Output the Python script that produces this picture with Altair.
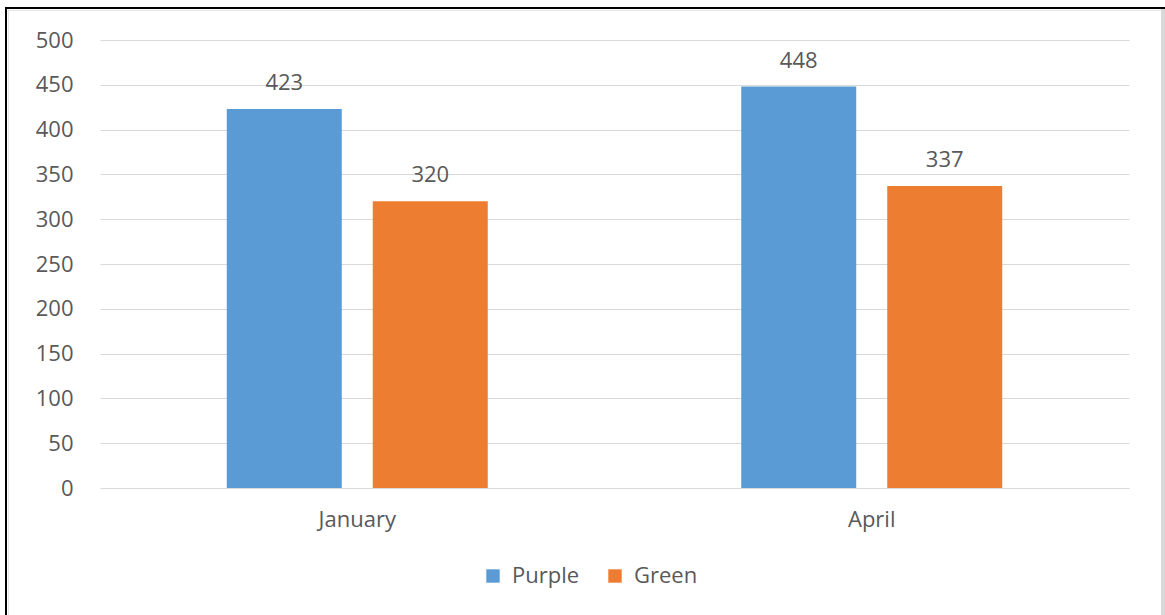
import altair as alt
import pandas as pd

# Values per month and series
months = ["January", "April"]
series = ["Purple", "Green"]
purple_values = [423, 448]
green_values = [320, 337]
colors = ["#5B9BD5", "#ED7D31"]
y_ticks = [0, 50, 100, 150, 200, 250, 300, 350, 400, 450, 500]

rows = []
for i, m in enumerate(months):
    rows.append({"Month": m, "Series": "Purple", "Value": purple_values[i]})
    rows.append({"Month": m, "Series": "Green", "Value": green_values[i]})
df = pd.DataFrame(rows)

FONT = "Open Sans"
FSIZE = 22
TEXT = "#595959"
GRID = "#d9d9d9"

x_enc = alt.X(
    "Month:N",
    sort=months,
    scale=alt.Scale(paddingInner=0.4927, paddingOuter=0.2464),
    axis=alt.Axis(title=None, labelAngle=0, domain=False, ticks=False,
                  labelPadding=21, labelFontSize=FSIZE, labelColor=TEXT,
                  labelFont=FONT),
)
xoff_enc = alt.XOffset(
    "Series:N", sort=series,
    scale=alt.Scale(paddingInner=0.2123, paddingOuter=0),
)
y_enc = alt.Y(
    "Value:Q",
    scale=alt.Scale(domain=[0, 500], nice=False),
    axis=alt.Axis(title=None, values=y_ticks, domain=False, ticks=False,
                  gridColor=GRID, gridWidth=1, labelPadding=27,
                  labelFontSize=FSIZE, labelColor=TEXT, labelFont=FONT),
)

bars = alt.Chart(df).mark_bar().encode(
    x=x_enc,
    xOffset=xoff_enc,
    y=y_enc,
    color=alt.Color(
        "Series:N",
        scale=alt.Scale(domain=series, range=colors),
        legend=alt.Legend(
            title=None, orient="none", direction="horizontal",
            legendX=382, legendY=525, symbolType="square",
            symbolSize=180, symbolStrokeWidth=0, symbolOpacity=1,
            labelFontSize=FSIZE, labelColor=TEXT, labelFont=FONT,
            labelOffset=8, columnPadding=24,
        ),
    ),
)

labels = alt.Chart(df).mark_text(
    baseline="alphabetic", dy=-19, fontSize=FSIZE, color=TEXT, font=FONT
).encode(
    x=alt.X("Month:N", sort=months),
    xOffset=alt.XOffset("Series:N", sort=series),
    y="Value:Q",
    text="Value:Q",
)

frame_src = alt.Data(values=[{}])
left_edge = alt.Chart(frame_src).mark_rule(color="black", strokeWidth=2).encode(
    x=alt.value(-94), y=alt.value(-33), y2=alt.value(575)
)
left_inner = alt.Chart(frame_src).mark_rule(color="#e6e6e6", strokeWidth=1).encode(
    x=alt.value(-91.5), y=alt.value(-31), y2=alt.value(575)
)
top_edge = alt.Chart(frame_src).mark_rule(color="black", strokeWidth=2).encode(
    x=alt.value(-95), x2=alt.value(1065), y=alt.value(-32)
)
top_inner = alt.Chart(frame_src).mark_rule(color="#e6e6e6", strokeWidth=1).encode(
    x=alt.value(-92), x2=alt.value(1061), y=alt.value(-29.5)
)
right_edge = alt.Chart(frame_src).mark_rule(color=GRID, strokeWidth=4).encode(
    x=alt.value(1063), y=alt.value(-31), y2=alt.value(575)
)

chart = (
    alt.layer(bars, labels, left_edge, left_inner, top_edge, top_inner, right_edge)
    .properties(
        width=1029, height=448,
        autosize=alt.AutoSizeParams(type="none"),
        padding={"left": 100, "top": 40, "right": 36, "bottom": 127},
        background="white",
    )
    .configure_view(stroke=None)
)

chart.save("out.html", embed_options={"renderer": "svg", "actions": False})
